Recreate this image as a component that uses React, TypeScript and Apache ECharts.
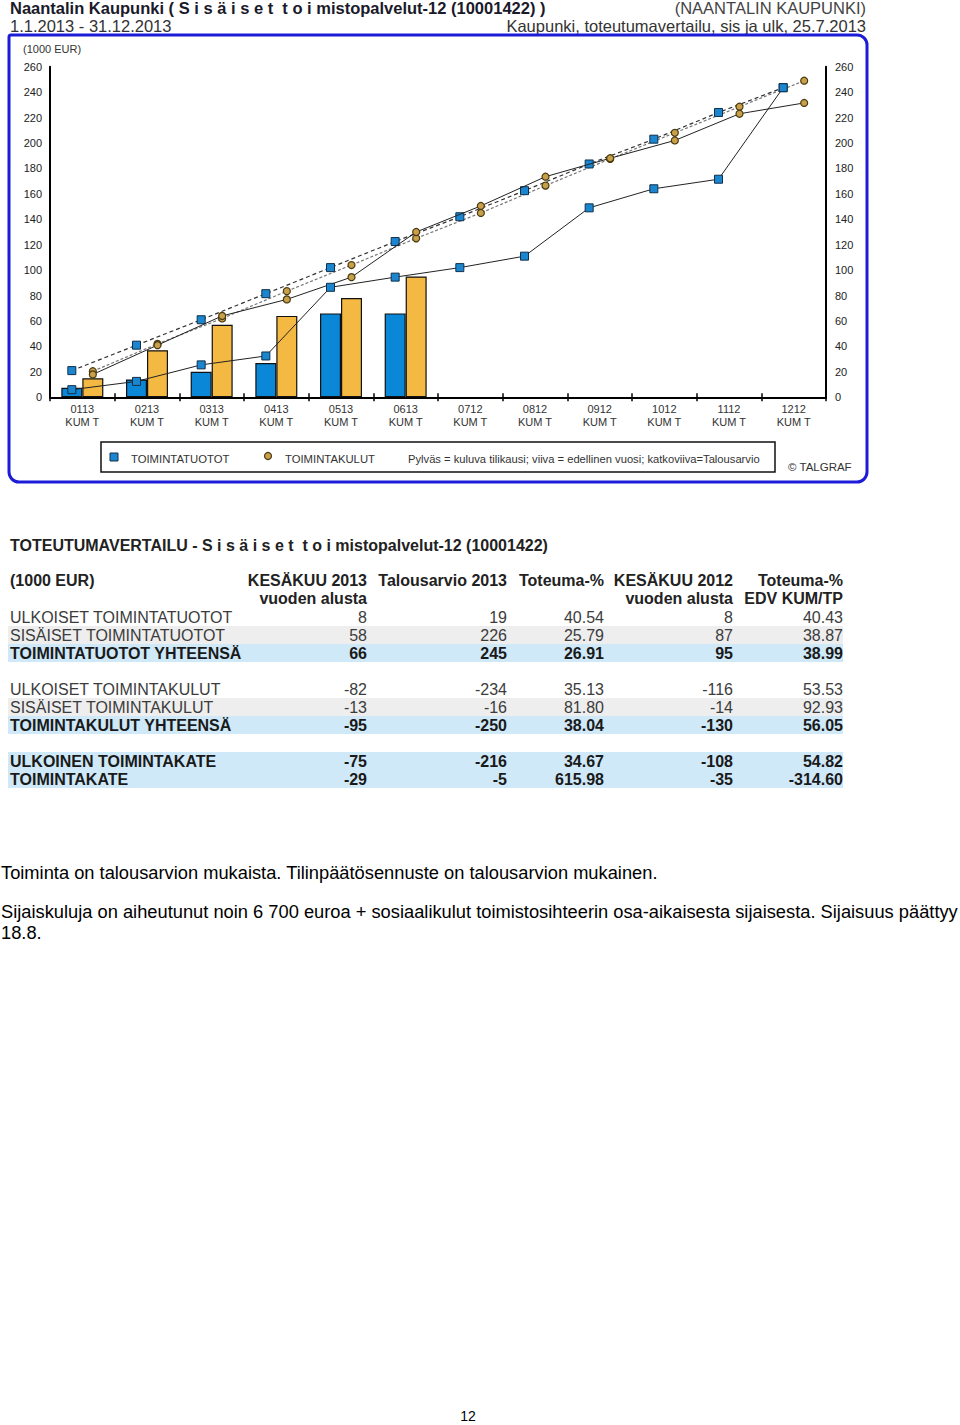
import React, { useEffect, useRef } from "react";
import * as echarts from "echarts";

const FONT = "'Liberation Sans', Arial, sans-serif";

// ---- chart data ----
const months = ["0113", "0213", "0313", "0413", "0513", "0613", "0712", "0812", "0912", "1012", "1112", "1212"];
const tuototCurrent = [7.5, 14, 20, 27, 66, 66, null, null, null, null, null, null];
const kulutCurrent = [15, 37, 57, 64, 78, 95, null, null, null, null, null, null];
const tuototPrev = [6, 12.5, 25.5, 32.5, 86.5, 94.5, 102, 111, 149, 164, 171.5, 243.5];
const tuototBudget = [21, 41, 61, 81.5, 102, 122.5, 142, 162.5, 183.5, 203, 224, 243.5];
const kulutPrev = [18, 41, 64, 77, 94.5, 130, 150.5, 173.5, 188, 202, 223, 231.5];
const kulutBudget = [20.5, 42, 62, 83.5, 104, 125, 145, 166.5, 187.5, 208, 228.5, 249];
const yTicks = { min: 0, max: 260, interval: 20 };

// ---- table data ----
const rowLabels = [
  "ULKOISET TOIMINTATUOTOT",
  "SISÄISET TOIMINTATUOTOT",
  "TOIMINTATUOTOT YHTEENSÄ",
  "ULKOISET TOIMINTAKULUT",
  "SISÄISET TOIMINTAKULUT",
  "TOIMINTAKULUT YHTEENSÄ",
  "ULKOINEN TOIMINTAKATE",
  "TOIMINTAKATE",
];
const colKesakuu2013 = ["8", "58", "66", "-82", "-13", "-95", "-75", "-29"];
const colTalousarvio2013 = ["19", "226", "245", "-234", "-16", "-250", "-216", "-5"];
const colToteuma = ["40.54", "25.79", "26.91", "35.13", "81.80", "38.04", "34.67", "615.98"];
const colKesakuu2012 = ["8", "87", "95", "-116", "-14", "-130", "-108", "-35"];
const colToteumaEdv = ["40.43", "38.87", "38.99", "53.53", "92.93", "56.05", "54.82", "-314.60"];
const rowKinds = ["plain", "gray", "blue", "plain", "gray", "blue", "blue", "blue"];

const notes = [
  "Toiminta on talousarvion mukaista. Tilinpäätösennuste on talousarvion mukainen.",
  "Sijaiskuluja on aiheutunut noin 6 700 euroa + sosiaalikulut toimistosihteerin osa-aikaisesta sijaisesta. Sijaisuus päättyy",
  "18.8.",
];

// ---- layout ----
const GRID = { left: 50, right: 826, top: 66.7, bottom: 397.3 };
const BAR_W = 21;
const catW = (GRID.right - GRID.left) / months.length;
const OFF = BAR_W / 2 / catW;

const BLUE = "#0a87d6";
const ORANGE = "#f4b942";
const SQ = "#1b86cf";
const CIRC = "#c9a04a";

function txt(text: string, x: number, y: number, opts: any = {}) {
  return {
    type: "text",
    x,
    y,
    silent: true,
    style: {
      text,
      fill: opts.fill || "#222",
      fontSize: opts.size || 14,
      fontWeight: opts.bold ? "bold" : "normal",
      fontFamily: FONT,
      align: opts.align || "left",
      verticalAlign: "middle",
    },
  };
}

export default function App() {
  const ref = useRef<HTMLDivElement>(null);
  useEffect(() => {
    document.body.style.margin = "0";
    document.body.style.overflow = "hidden";
    const chart = echarts.init(ref.current!, null, { renderer: "svg" });

    const graphics: any[] = [];
    // header
    graphics.push(txt("Naantalin Kaupunki ( S i s ä i s e t  t o i mistopalvelut-12 (10001422) )", 10, 8, { size: 16.5, bold: true, fill: "#1a1a2a" }));
    graphics.push(txt("(NAANTALIN KAUPUNKI)", 866, 8, { size: 16.5, fill: "#444", align: "right" }));
    graphics.push(txt("1.1.2013 - 31.12.2013", 10, 26, { size: 16.5, fill: "#333" }));
    graphics.push(txt("Kaupunki, toteutumavertailu, sis ja ulk, 25.7.2013", 866, 26, { size: 16.5, fill: "#333", align: "right" }));
    // border
    graphics.push({
      type: "rect",
      silent: true,
      shape: { x: 9, y: 35, width: 858, height: 447, r: [2, 10, 10, 10] },
      style: { fill: "none", stroke: "#1c1cd8", lineWidth: 3 },
    });
    graphics.push(txt("(1000 EUR)", 23, 49, { size: 11, fill: "#333" }));
    // legend
    graphics.push({
      type: "rect",
      silent: true,
      shape: { x: 101, y: 442, width: 674, height: 30 },
      style: { fill: "#fff", stroke: "#111", lineWidth: 1.5 },
    });
    graphics.push({
      type: "rect",
      silent: true,
      shape: { x: 110, y: 453, width: 8, height: 8 },
      style: { fill: SQ, stroke: "#10304a", lineWidth: 1 },
    });
    graphics.push(txt("TOIMINTATUOTOT", 131, 459, { size: 11.3, fill: "#333" }));
    graphics.push({
      type: "circle",
      silent: true,
      shape: { cx: 268, cy: 456, r: 3.5 },
      style: { fill: CIRC, stroke: "#4a3a10", lineWidth: 1.2 },
    });
    graphics.push(txt("TOIMINTAKULUT", 285, 459, { size: 11.3, fill: "#333" }));
    graphics.push(txt("Pylväs = kuluva tilikausi; viiva = edellinen vuosi; katkoviiva=Talousarvio", 408, 459, { size: 11.2, fill: "#333" }));
    graphics.push(txt("© TALGRAF", 788, 467, { size: 11.5, fill: "#333" }));

    // table
    const TS = 16;
    graphics.push(txt("TOTEUTUMAVERTAILU - S i s ä i s e t  t o i mistopalvelut-12 (10001422)", 10, 545, { size: TS, bold: true, fill: "#222" }));
    const colRight = [367, 507, 604, 733, 843];
    graphics.push(txt("(1000 EUR)", 10, 580, { size: TS, bold: true, fill: "#222" }));
    const h1 = ["KESÄKUU 2013", "Talousarvio 2013", "Toteuma-%", "KESÄKUU 2012", "Toteuma-%"];
    const h2 = ["vuoden alusta", "", "", "vuoden alusta", "EDV KUM/TP"];
    h1.forEach((t, i) => graphics.push(txt(t, colRight[i], 580, { size: TS, bold: true, fill: "#222", align: "right" })));
    h2.forEach((t, i) => t && graphics.push(txt(t, colRight[i], 598, { size: TS, bold: true, fill: "#222", align: "right" })));
    const rowY = [617, 635, 653, 689, 707, 725, 761, 779];
    const cols = [colKesakuu2013, colTalousarvio2013, colToteuma, colKesakuu2012, colToteumaEdv];
    rowLabels.forEach((lab, r) => {
      const kind = rowKinds[r];
      if (kind !== "plain") {
        graphics.push({
          type: "rect",
          silent: true,
          z: -1,
          shape: { x: 8, y: rowY[r] - 9, width: 835, height: 18 },
          style: { fill: kind === "gray" ? "#eeeeee" : "#cfe9f9" },
        });
      }
      const bold = kind === "blue";
      const fill = bold ? "#1a1a1a" : "#3c3c3c";
      graphics.push(txt(lab, 10, rowY[r], { size: TS, bold, fill }));
      cols.forEach((c, i) => graphics.push(txt(c[r], colRight[i], rowY[r], { size: TS, bold, fill, align: "right" })));
    });

    // notes
    graphics.push(txt(notes[0], 1, 872, { size: 18.3, fill: "#000" }));
    graphics.push(txt(notes[1], 1, 911, { size: 18.3, fill: "#000" }));
    graphics.push(txt(notes[2], 1, 932, { size: 18.3, fill: "#000" }));
    graphics.push(txt("12", 468, 1416, { size: 14, fill: "#000", align: "center" }));

    const lineX = (i: number, side: number) => i + 0.5 + side * OFF;
    const pts = (arr: number[], side: number) => arr.map((v, i) => [lineX(i, side), v]);

    const sqStyle = { color: SQ, borderColor: "#10304a", borderWidth: 1 };
    const ciStyle = { color: CIRC, borderColor: "#4a3a10", borderWidth: 1.2 };

    const axisLbl = { fontSize: 11, color: "#222", fontFamily: FONT };

    chart.setOption({
      animation: false,
      textStyle: { fontFamily: FONT },
      grid: {
        left: GRID.left,
        top: GRID.top,
        width: GRID.right - GRID.left,
        height: GRID.bottom - GRID.top,
      },
      xAxis: [
        {
          type: "category",
          data: months.map((m) => m + "\nKUM T"),
          axisLine: { lineStyle: { color: "#000", width: 2 } },
          axisTick: { show: true, length: 4, lineStyle: { color: "#000", width: 1.5 } },
          axisLabel: { ...axisLbl, color: "#333", lineHeight: 13, margin: 5 },
        },
        { type: "value", min: 0, max: months.length, show: false },
        {
          type: "category",
          data: months,
          position: "bottom",
          axisLine: { show: false },
          axisTick: { show: true, inside: true, length: 4, lineStyle: { color: "#000", width: 1.5 } },
          axisLabel: { show: false },
        },
      ],
      yAxis: [
        {
          type: "value",
          ...yTicks,
          axisLine: { show: true, lineStyle: { color: "#000", width: 2 } },
          axisTick: { show: false },
          splitLine: { show: false },
          axisLabel: { ...axisLbl, margin: 8 },
        },
        {
          type: "value",
          position: "right",
          ...yTicks,
          axisLine: { show: true, lineStyle: { color: "#000", width: 2 } },
          axisTick: { show: false },
          splitLine: { show: false },
          axisLabel: { ...axisLbl, margin: 9 },
        },
      ],
      series: [
        {
          name: "TOIMINTATUOTOT 2013",
          type: "bar",
          data: tuototCurrent,
          barWidth: BAR_W,
          barGap: "0%",
          itemStyle: { color: BLUE, borderColor: "#111", borderWidth: 1.2 },
        },
        {
          name: "TOIMINTAKULUT 2013",
          type: "bar",
          data: kulutCurrent,
          barWidth: BAR_W,
          barGap: "0%",
          itemStyle: { color: ORANGE, borderColor: "#111", borderWidth: 1.2 },
        },
        {
          name: "TOIMINTATUOTOT TA",
          type: "line",
          xAxisIndex: 1,
          data: pts(tuototBudget, -1),
          symbol: "rect",
          symbolSize: 8,
          lineStyle: { color: "#333", width: 1.2, type: [4, 3] },
          itemStyle: sqStyle,
          z: 5,
        },
        {
          name: "TOIMINTAKULUT TA",
          type: "line",
          xAxisIndex: 1,
          data: pts(kulutBudget, 1),
          symbol: "circle",
          symbolSize: 7,
          lineStyle: { color: "#777", width: 1.2, type: [3, 2] },
          itemStyle: ciStyle,
          z: 5,
        },
        {
          name: "TOIMINTATUOTOT 2012",
          type: "line",
          xAxisIndex: 1,
          data: pts(tuototPrev, -1),
          symbol: "rect",
          symbolSize: 8,
          lineStyle: { color: "#222", width: 1 },
          itemStyle: sqStyle,
          z: 6,
        },
        {
          name: "TOIMINTAKULUT 2012",
          type: "line",
          xAxisIndex: 1,
          data: pts(kulutPrev, 1),
          symbol: "circle",
          symbolSize: 7,
          lineStyle: { color: "#222", width: 1 },
          itemStyle: ciStyle,
          z: 6,
        },
      ],
      graphic: graphics,
    });
    return () => chart.dispose();
  }, []);
  return <div ref={ref} style={{ width: 960, height: 1425 }} />;
}
